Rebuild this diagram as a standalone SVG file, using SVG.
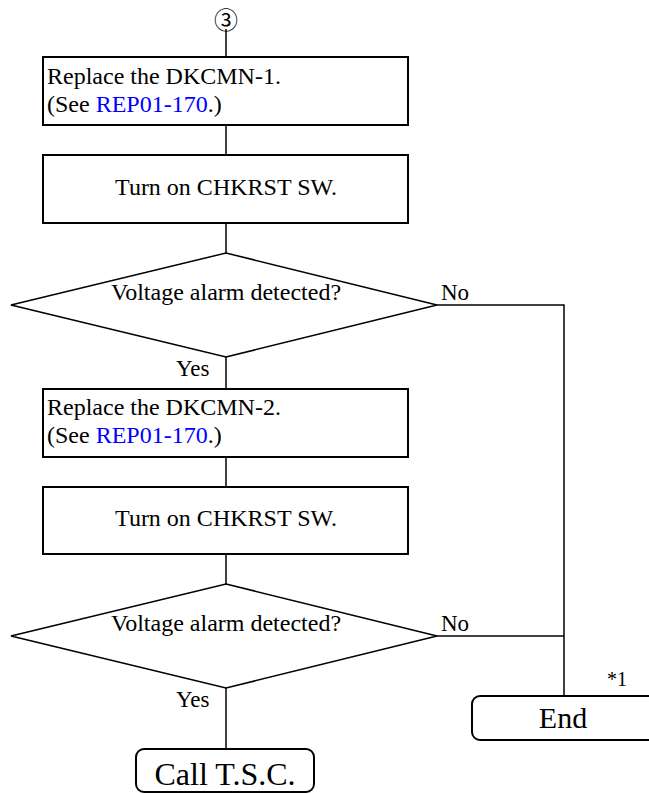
<svg xmlns="http://www.w3.org/2000/svg" width="649" height="794" viewBox="0 0 649 794">
<style>
.box{fill:#fff;stroke:#000;stroke-width:2}
.dia{fill:#fff;stroke:#000;stroke-width:1.5}
.ln{fill:none;stroke:#000;stroke-width:1.5}
.s{font-family:"Liberation Serif","Times New Roman",Tinos,"DejaVu Serif",serif;fill:#000}
.t{font-size:24px}
.lbl{font-size:23px}
.mid{text-anchor:middle}
.link{fill:#0000ff}
</style>
<rect width="649" height="794" fill="#fff"/>
<g id="connectors">
<line class="ln" x1="226" y1="29" x2="226" y2="57"/>
<line class="ln" x1="226" y1="125" x2="226" y2="155"/>
<line class="ln" x1="226" y1="223" x2="226" y2="253"/>
<line class="ln" x1="226" y1="357" x2="226" y2="389"/>
<line class="ln" x1="226" y1="457" x2="226" y2="487"/>
<line class="ln" x1="226" y1="554" x2="226" y2="584"/>
<line class="ln" x1="226" y1="688" x2="226" y2="749"/>
<polyline class="ln" points="437,305 564,305 564,696"/>
<line class="ln" x1="437" y1="636" x2="564" y2="636"/>
<text class="s lbl" x="441" y="300">No</text>
<text class="s lbl" x="176" y="376">Yes</text>
<text class="s lbl" x="441" y="631">No</text>
<text class="s lbl" x="176" y="707">Yes</text>
</g>
<g id="start">
<text x="226" y="29" text-anchor="middle" font-family="'Noto Sans CJK JP','DejaVu Sans',sans-serif" font-size="24">③</text>
</g>
<g id="replace1">
<rect class="box" x="43" y="57" width="365" height="68"/>
<text class="s t" x="47" y="84">Replace the DKCMN-1.</text>
<text class="s t" x="47" y="112">(See <tspan class="link">REP01-170</tspan>.)</text>
</g>
<g id="chkrst1">
<rect class="box" x="43" y="155" width="365" height="68"/>
<text class="s t mid" x="226" y="195">Turn on CHKRST SW.</text>
</g>
<g id="decision1">
<polygon class="dia" points="226,253 437,305 226,357 11,305"/>
<text class="s t mid" x="226" y="300">Voltage alarm detected?</text>
</g>
<g id="replace2">
<rect class="box" x="43" y="389" width="365" height="68"/>
<text class="s t" x="47" y="415">Replace the DKCMN-2.</text>
<text class="s t" x="47" y="443">(See <tspan class="link">REP01-170</tspan>.)</text>
</g>
<g id="chkrst2">
<rect class="box" x="43" y="487" width="365" height="67"/>
<text class="s t mid" x="226" y="526">Turn on CHKRST SW.</text>
</g>
<g id="decision2">
<polygon class="dia" points="226,584 437,636 226,688 11,636"/>
<text class="s t mid" x="226" y="631">Voltage alarm detected?</text>
</g>
<g id="end">
<rect class="box" x="472" y="696" width="200" height="44" rx="8"/>
<text class="s mid" x="563" y="728" font-size="30">End</text>
<text class="s" x="607" y="686" font-size="20">*1</text>
</g>
<g id="call">
<rect class="box" x="136" y="749" width="178" height="43" rx="8"/>
<text class="s mid" x="225" y="785" font-size="32">Call T.S.C.</text>
</g>
</svg>
